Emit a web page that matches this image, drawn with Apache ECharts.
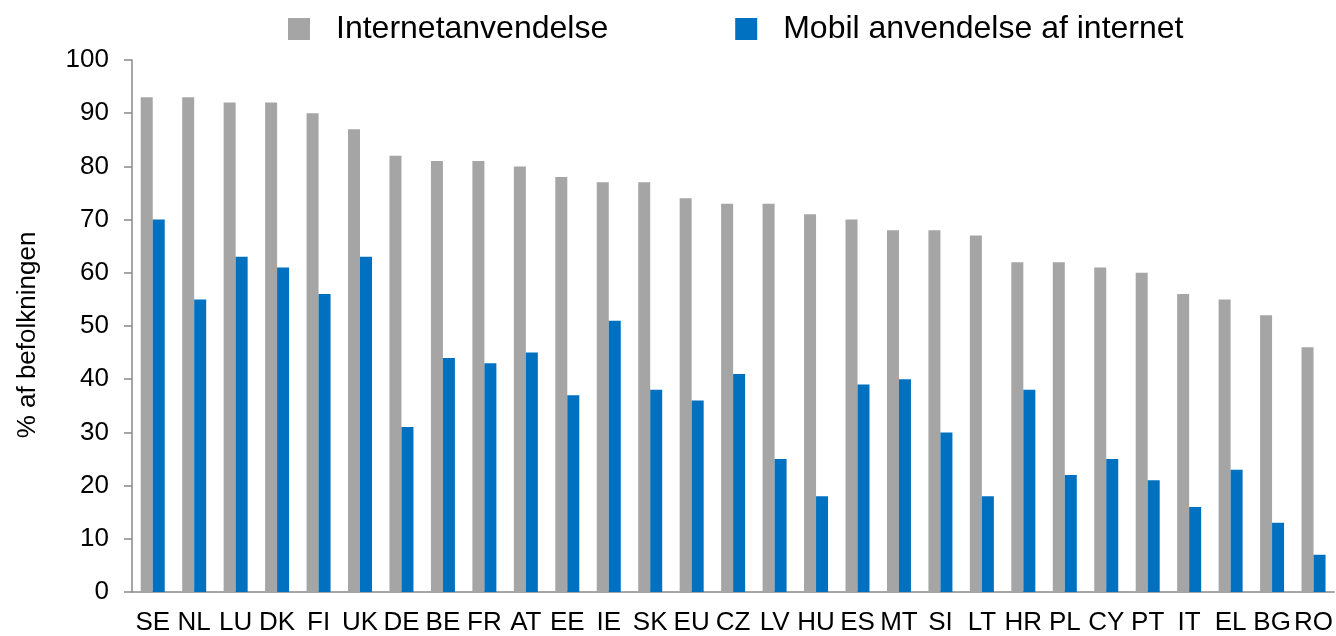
<!DOCTYPE html>
<html>
<head>
<meta charset="utf-8">
<script src="https://cdn.jsdelivr.net/npm/echarts@6/dist/echarts.min.js"></script>
<style>
  html, body { margin: 0; padding: 0; background: #fff; }
  #chart { width: 1336px; height: 636px; }
</style>
</head>
<body>
<div id="chart"></div>
<script>
const countries = ['SE', 'NL', 'LU', 'DK', 'FI', 'UK', 'DE', 'BE', 'FR', 'AT', 'EE', 'IE', 'SK', 'EU', 'CZ',
  'LV', 'HU', 'ES', 'MT', 'SI', 'LT', 'HR', 'PL', 'CY', 'PT', 'IT', 'EL', 'BG', 'RO'];
const internetUse = [93, 93, 92, 92, 90, 87, 82, 81, 81, 80, 78, 77, 77, 74, 73,
  73, 71, 70, 68, 68, 67, 62, 62, 61, 60, 56, 55, 52, 46];
const mobileUse = [70, 55, 63, 61, 56, 63, 31, 44, 43, 45, 37, 51, 38, 36, 41,
  25, 18, 39, 40, 30, 18, 38, 22, 25, 21, 16, 23, 13, 7];

const font = '"Liberation Sans", Arial, sans-serif';
const axisGrey = '#898989';

const chart = echarts.init(document.getElementById('chart'));

chart.setOption({
  animation: false,
  textStyle: { fontFamily: font },
  legend: {
    left: 283,
    top: 8,
    itemWidth: 22,
    itemHeight: 22,
    itemGap: 127,
    icon: 'rect',
    textStyle: {
      fontFamily: font,
      fontSize: 32,
      color: '#000',
      padding: [0, 0, 0, 21]
    },
    data: ['Internetanvendelse', 'Mobil anvendelse af internet']
  },
  grid: {
    left: 132,
    right: 0,
    top: 60,
    bottom: 43
  },
  xAxis: {
    type: 'category',
    data: countries,
    axisLine: { lineStyle: { color: axisGrey, width: 1.5 } },
    axisTick: { length: 7, lineStyle: { color: axisGrey, width: 1.5 } },
    axisLabel: {
      interval: 0,
      margin: 18,
      fontSize: 26,
      fontFamily: font,
      color: '#000'
    }
  },
  yAxis: {
    type: 'value',
    min: 0,
    max: 100,
    interval: 10,
    name: '% af befolkningen',
    nameLocation: 'middle',
    nameGap: 91,
    nameTextStyle: { fontSize: 26, fontFamily: font, color: '#000', padding: [0, 18, 0, 0] },
    splitLine: { show: false },
    axisLine: { show: true, lineStyle: { color: axisGrey, width: 1.5 } },
    axisTick: { show: true, length: 8, lineStyle: { color: axisGrey, width: 1.5 } },
    axisLabel: {
      margin: 23,
      fontSize: 26,
      fontFamily: font,
      color: '#000'
    }
  },
  series: [
    {
      name: 'Internetanvendelse',
      type: 'bar',
      data: internetUse,
      barWidth: 12,
      barGap: '0%',
      itemStyle: { color: '#A5A5A5' }
    },
    {
      name: 'Mobil anvendelse af internet',
      type: 'bar',
      data: mobileUse,
      barWidth: 12,
      barGap: '0%',
      itemStyle: { color: '#0070C0' }
    }
  ]
});
</script>
</body>
</html>
